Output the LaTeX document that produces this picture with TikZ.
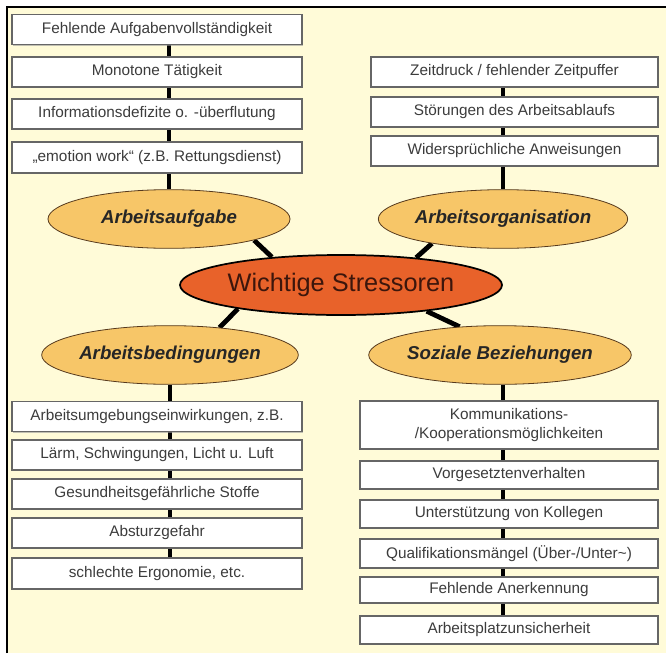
\documentclass[tikz,border=0pt]{standalone}
\usepackage{fontspec}
\setmainfont{Liberation Sans}
\usetikzlibrary{shapes.geometric,backgrounds,shadows}
\definecolor{bg}{RGB}{255,251,216}
\definecolor{hubfill}{RGB}{232,98,42}
\definecolor{subfill}{RGB}{247,198,104}
\definecolor{boxtext}{RGB}{60,60,60}
\definecolor{hubtext}{RGB}{60,22,12}
\begin{document}
\begin{tikzpicture}[x=0.75pt,y=-0.75pt,
  item/.style={draw=black!60,line width=0.9pt,fill=white,text=boxtext,
    font=\fontsize{11.5}{14}\selectfont,inner sep=0pt,minimum height=22.5pt,align=center,
    drop shadow={shadow xshift=1pt,shadow yshift=-1pt,fill=black!40,opacity=0.6}},
  litem/.style={item,minimum width=217.5pt},
  ritem/.style={item,minimum width=215.25pt},
  sitem/.style={item,minimum width=223.5pt,minimum height=21pt},
  cat/.style={ellipse,draw=black!55!brown,line width=0.6pt,fill=subfill,
    minimum width=181.5pt,minimum height=44pt,inner sep=0pt,
    font=\fontsize{14}{16}\selectfont\bfseries\itshape,text=black!85},
  hub/.style={ellipse,draw=black,line width=1.3pt,fill=hubfill,
    minimum width=241.5pt,minimum height=45pt,inner sep=0pt,
    font=\fontsize{19}{22}\selectfont,text=hubtext},
  link/.style={line width=3pt,black},
  spoke/.style={line width=3.6pt,black}
]
\useasboundingbox (0,0) rectangle (666,653);

% left top
\node[litem] (l1) at (157,29.5) {Fehlende Aufgabenvollständigkeit};
\node[litem] (l2) at (157,72) {Monotone Tätigkeit};
\node[litem] (l3) at (157,114) {Informationsdefizite o. -überflutung};
\node[litem,minimum height=23.25pt] (l4) at (157,157.5) {„emotion work“ (z.B. Rettungsdienst)};

% right top
\node[ritem] (r1) at (514.5,72) {Zeitdruck / fehlender Zeitpuffer};
\node[ritem] (r2) at (514.5,112) {Störungen des Arbeitsablaufs};
\node[ritem] (r3) at (514.5,151) {Widersprüchliche Anweisungen};

% ellipses
\node[cat] (aufgabe) at (169,219) {Arbeitsaufgabe};
\node[cat] (orga) at (503,219) {Arbeitsorganisation};
\node[hub] (hub) at (341,285) {Wichtige Stressoren};
\node[cat] (bed) at (170,355) {Arbeitsbedingungen};
\node[cat,minimum width=180pt] (sozial) at (500,355) {Soziale Beziehungen};

% left bottom
\node[litem] (b1) at (157,416.5) {Arbeitsumgebungseinwirkungen, z.B.};
\node[litem] (b2) at (157,455) {Lärm, Schwingungen, Licht u. Luft};
\node[litem] (b3) at (157,494) {Gesundheitsgefährliche Stoffe};
\node[litem] (b4) at (157,533) {Absturzgefahr};
\node[litem,minimum height=23.25pt] (b5) at (157,573.5) {schlechte Ergonomie, etc.};

% right bottom
\node[sitem,minimum height=36pt] (s1) at (509,425) {Kommunikations-\\/Kooperationsmöglichkeiten};
\node[sitem] (s2) at (509,475) {Vorgesetztenverhalten};
\node[sitem] (s3) at (509,514) {Unterstützung von Kollegen};
\node[sitem,minimum height=21.75pt] (s4) at (509,553.5) {Qualifikationsmängel (Über-/Unter\textasciitilde)};
\node[sitem,minimum height=19.5pt] (s5) at (509,590) {Fehlende Anerkennung};
\node[sitem] (s6) at (509,630) {Arbeitsplatzunsicherheit};

\begin{scope}[on background layer]
  \fill[white] (0,0) rectangle (666,653);
  \fill[bg] (7,7) rectangle (666,653);
  \draw[link] (l1.south -| aufgabe.north) -- (aufgabe.north);
  \draw[link] (r1.south -| orga.north) -- (orga.north);
  \draw[link] (bed.south) -- (b5.north -| bed.south);
  \draw[link] (sozial.south -| orga.south) -- (s6.north -| orga.south);
  \draw[spoke] (aufgabe.-14) -- (hub.158);
  \draw[spoke] (orga.-161) -- (hub.20);
  \draw[spoke] (hub.-17) -- (sozial.145);
  \draw[spoke] (hub.193) -- (bed.29);
\end{scope}

\draw[line width=1.5pt,black] (7,653) -- (7,7) -- (666,7);
\end{tikzpicture}
\end{document}
